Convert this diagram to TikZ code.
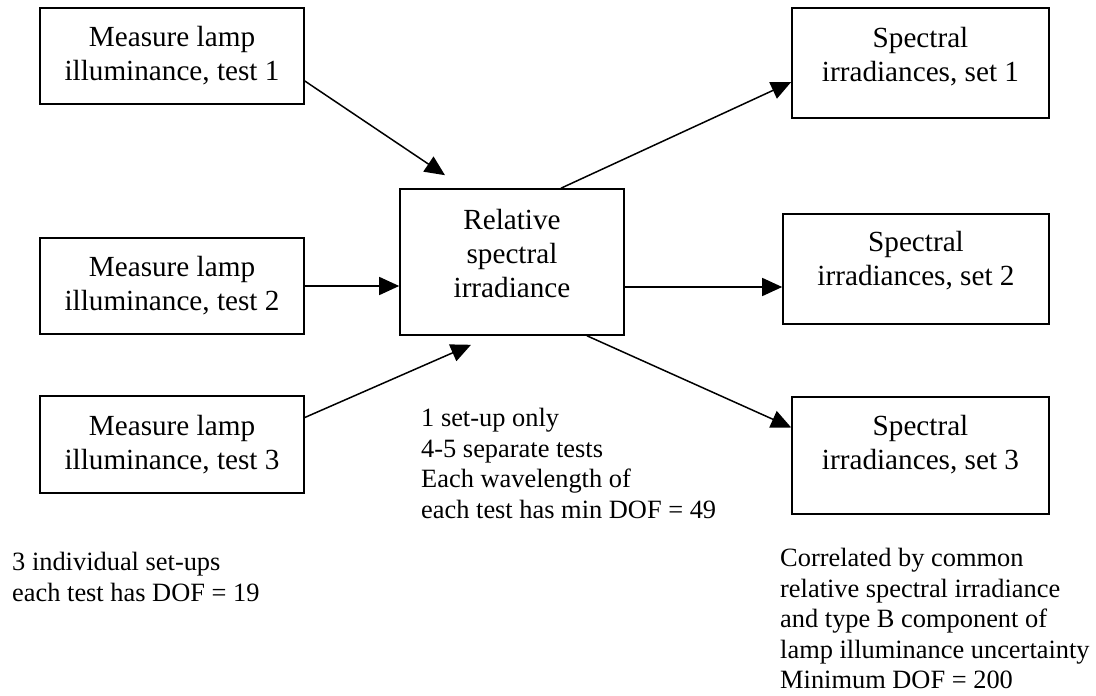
\documentclass[tikz,border=0pt]{standalone}
\usepackage{fontspec}
\setmainfont{Liberation Serif}
\usetikzlibrary{arrows.meta}
\newcommand{\lowpad}[1]{\rule[-#1]{0pt}{#1}}
\begin{document}
\begin{tikzpicture}[x=1pt,y=-1pt,
    box/.style={draw,line width=1.6pt,inner sep=0pt,align=center,
      font=\fontsize{29.2}{34}\selectfont},
    note/.style={inner sep=0pt,anchor=north west,align=left,
      font=\fontsize{26.4}{30.5}\selectfont},
    link/.style={line width=1.5pt,-{Triangle[length=20pt,width=18pt]}}]
  \useasboundingbox (0,0) rectangle (1096,696);
  % measurements on the left
  \node [box,minimum width=264pt,minimum height=96pt] (L1) at (172,56) {Measure lamp\\illuminance, test 1};
  \node [box,minimum width=264pt,minimum height=96pt] (L2) at (172,286) {Measure lamp\\illuminance, test 2};
  \node [box,minimum width=264pt,minimum height=97pt] (L3) at (172,444.5) {Measure lamp\\illuminance, test 3};
  % relative spectral irradiance
  \node [box,minimum width=224pt,minimum height=146pt] (C) at (512,262) {Relative\\spectral\\irradiance\lowpad{18pt}};
  % results on the right
  \node [box,minimum width=257pt,minimum height=110pt] (S1) at (920.5,63) {Spectral\\irradiances, set 1\lowpad{17pt}};
  \node [box,minimum width=266pt,minimum height=110pt] (S2) at (916,269) {Spectral\\irradiances, set 2\lowpad{22pt}};
  \node [box,minimum width=257pt,minimum height=117pt] (S3) at (920.5,455.5) {Spectral\\irradiances, set 3\lowpad{26pt}};
  % notes
  \node [note] (N1) at (12,552) {3 individual set-ups\\each test has DOF = 19};
  \node [note] (N2) at (421,408) {1 set-up only\\4-5 separate tests\\Each wavelength of\\each test has min DOF = 49};
  \node [note] (N3) at (780,548) {Correlated by common\\relative spectral irradiance\\and type B component of\\lamp illuminance uncertainty\\Minimum DOF = 200};
  \draw [link] ([yshift=-25pt]L1.east) -- ([xshift=-67pt,yshift=13pt]C.north);
  \draw [link] (L2.east) -- (L2.east -| C.west);
  \draw [link] ([yshift=27pt]L3.east) -- ([xshift=-41pt,yshift=-9pt]C.south);
  \draw [link] ([xshift=49pt]C.north) -- ([yshift=-19pt]S1.west);
  \draw [link] ([yshift=-25pt]C.east) -- ([yshift=-18pt]S2.west);
  \draw [link] ([xshift=75pt]C.south) -- ([yshift=28pt]S3.west);
\end{tikzpicture}
\end{document}
